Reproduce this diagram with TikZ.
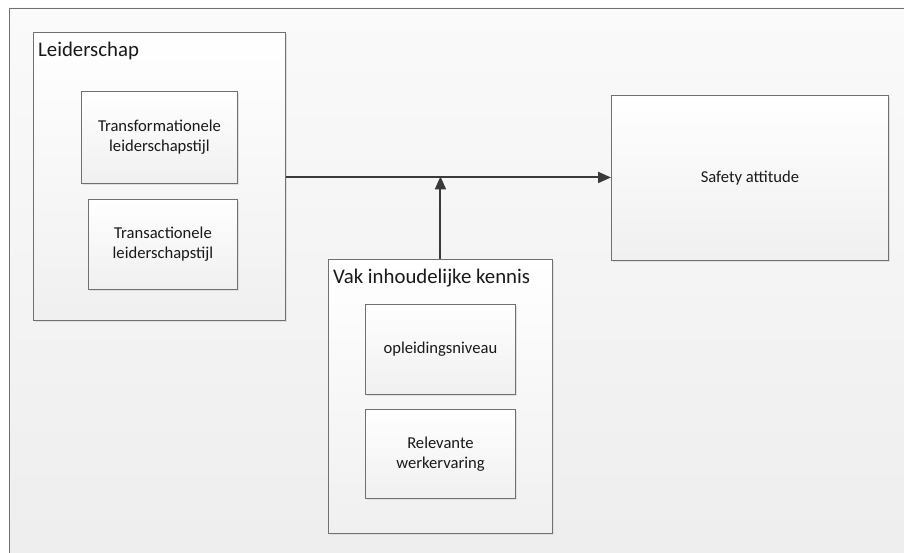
\documentclass[tikz,border=0pt]{standalone}
\usepackage{fontspec}
\setmainfont{Carlito}
\usetikzlibrary{arrows.meta,shadows}

\definecolor{rand}{HTML}{707070}
\definecolor{pijl}{HTML}{3a3a3a}

\tikzset{
  blok/.style={draw=rand, line width=0.9pt, top color=white, bottom color=black!6,
    rectangle, anchor=north west, inner sep=0pt,
    general shadow={fill=black!12, shadow xshift=2pt, shadow yshift=-2pt}},
  groep/.style={blok},
  titel/.style={anchor=base west, inner sep=0pt, font=\fontsize{20.8}{25}\selectfont, text=black!90},
  tekst/.style={align=center, font=\fontsize{16.6}{20}\selectfont, text=black!90},
  verband/.style={draw=pijl, line width=2pt, -{Triangle[length=13pt,width=11pt]}}
}

\begin{document}
\begin{tikzpicture}[x=1pt, y=-1pt]
  \useasboundingbox (0,0) rectangle (904,553);
  % achtergrond
  \path[draw=rand, line width=0.9pt, top color=black!2, bottom color=black!7] (9,8) rectangle (930,580);

  % leiderschap
  \node[groep, minimum width=252pt, minimum height=288pt] (lead) at (33,32) {};
  \node[titel] (leadtitel) at ([shift={(5,25)}]lead.north west) {Leiderschap};
  \node[blok, minimum width=156pt, minimum height=92pt] (trf) at (81,91) {};
  \node[tekst] at (trf.center) {Transformationele\\leiderschapstijl};
  \node[blok, minimum width=149pt, minimum height=90pt] (trc) at (88,199) {};
  \node[tekst] at (trc.center) {Transactionele\\leiderschapstijl};

  % vak inhoudelijke kennis
  \node[groep, minimum width=224pt, minimum height=274pt] (vak) at (328,259) {};
  \node[titel] (vaktitel) at ([shift={(5,24)}]vak.north west) {Vak inhoudelijke kennis};
  \node[blok, minimum width=150pt, minimum height=90pt] (opl) at (365,304) {};
  \node[tekst] at (opl.center) {opleidingsniveau};
  \node[blok, minimum width=150pt, minimum height=89pt] (rel) at (365,409) {};
  \node[tekst] at (rel.center) {Relevante\\werkervaring};

  % safety attitude
  \node[blok, minimum width=277pt, minimum height=165pt] (safe) at (611,95) {};
  \node[tekst] at (safe.center) {Safety attitude};

  % verbanden
  \draw[verband] ([yshift=-1pt]lead.east) -- ([yshift=-1pt]lead.east -| safe.west);
  \draw[verband] (vak.north) -- (vak.north |- lead.east);
\end{tikzpicture}
\end{document}
